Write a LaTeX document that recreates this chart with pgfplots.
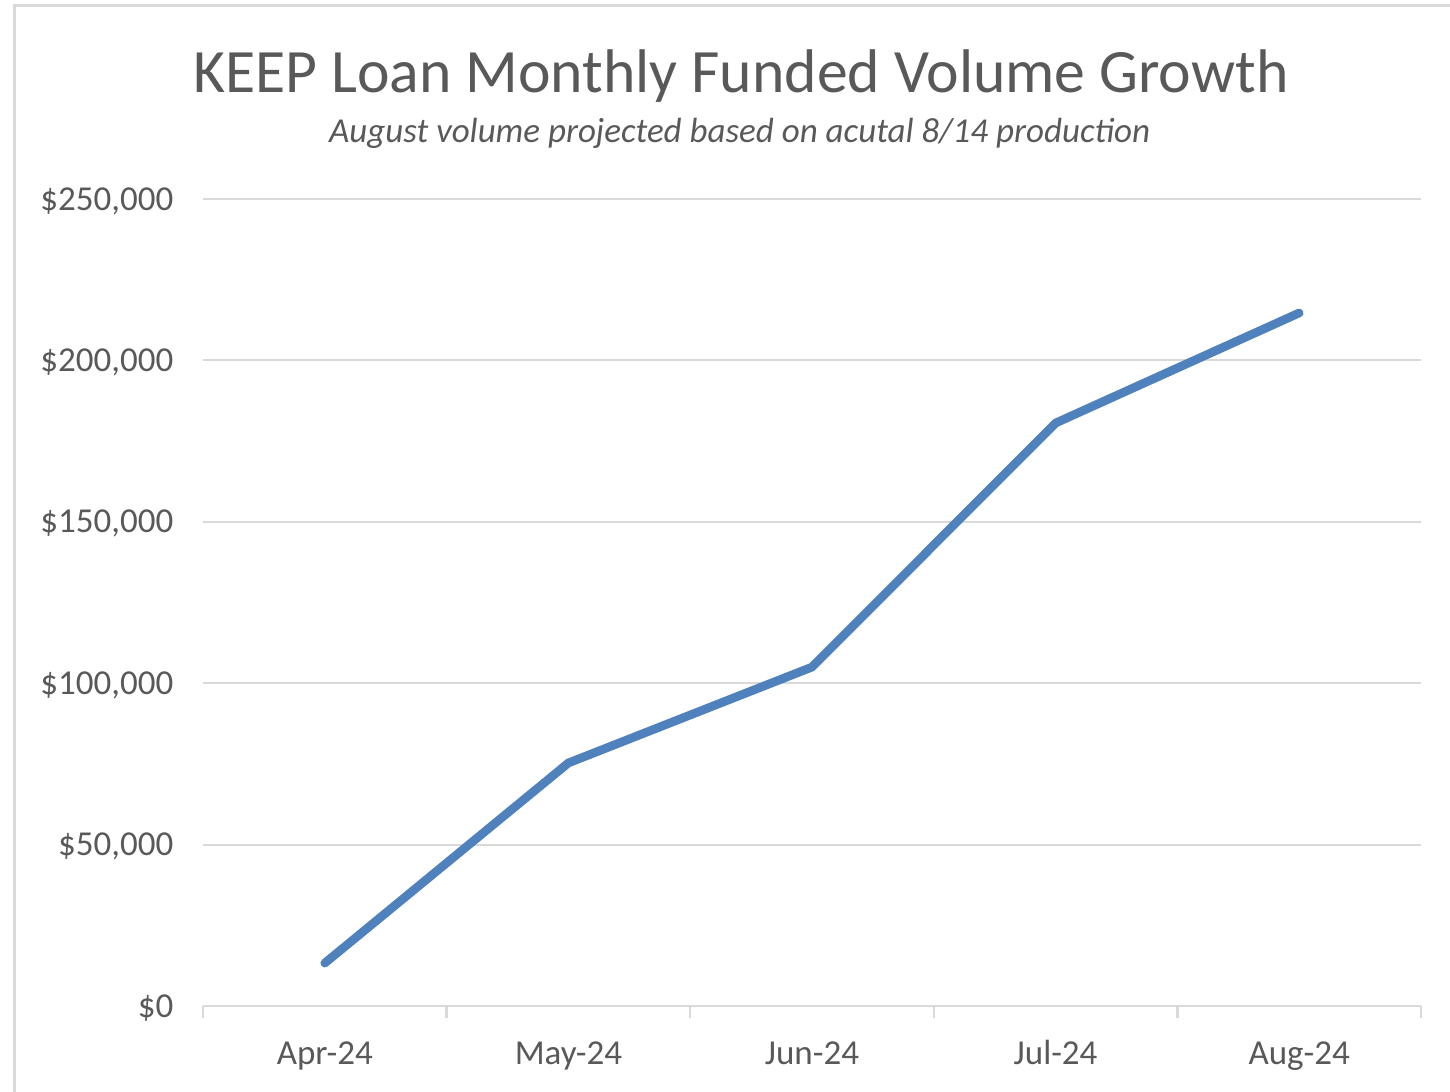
\documentclass[border=0pt]{standalone}
\usepackage{fontspec}
\setmainfont{Carlito}
\usepackage{pgfplots}
\pgfplotsset{compat=1.18}
\definecolor{txt}{RGB}{89,89,89}
\definecolor{grd}{RGB}{217,217,217}
\definecolor{ln}{RGB}{79,129,189}
\begin{document}
\begin{tikzpicture}
\useasboundingbox (0,0) rectangle (435pt,327.3pt);
\draw[grd, line width=0.9pt] (4.2pt,-2pt) -- (4.2pt,325.65pt) -- (440pt,325.65pt);
\node[anchor=base, font=\fontsize{18.5}{22}\selectfont, text=txt, inner sep=0pt] at (222.3pt,299.4pt) {KEEP Loan Monthly Funded Volume Growth};
\node[anchor=base, font=\fontsize{10.5}{13}\selectfont\itshape, text=txt, inner sep=0pt] at (221.9pt,284.4pt) {August volume projected based on acutal 8/14 production};
\begin{axis}[
  at={(60.9pt,25.5pt)}, anchor=south west,
  scale only axis, width=365.4pt, height=242.1pt,
  xmin=-0.5, xmax=4.5, ymin=0, ymax=250000,
  scaled y ticks=false,
  axis x line*=bottom, axis y line*=left,
  x axis line style={grd, line width=0.7pt},
  y axis line style={draw=none},
  xtick={-0.5,0.5,1.5,2.5,3.5,4.5},
  x tick label as interval,
  xticklabels={Apr-24,May-24,Jun-24,Jul-24,Aug-24},
  ytick={0,50000,100000,150000,200000,250000},
  yticklabels={{\$0},{\$50,000},{\$100,000},{\$150,000},{\$200,000},{\$250,000}},
  ymajorgrids,
  grid style={grd, line width=0.6pt},
  tick align=outside,
  major tick length=3.6pt,
  xtick style={grd, line width=0.7pt},
  ytick style={draw=none},
  ticklabel style={font=\fontsize{10.5}{12}\selectfont, text=txt},
  yticklabel style={anchor=base east, inner sep=0pt, xshift=-5.1pt, yshift=-3.3pt},
  xticklabel style={anchor=base, inner sep=0pt, yshift=-13.8pt},
  clip=false,
]
\addplot[ln, line width=2.6pt, line cap=round, line join=round] coordinates {
  (0,13300) (1,75300) (2,105000) (3,180600) (4,214700)
};
\end{axis}
\end{tikzpicture}
\end{document}
